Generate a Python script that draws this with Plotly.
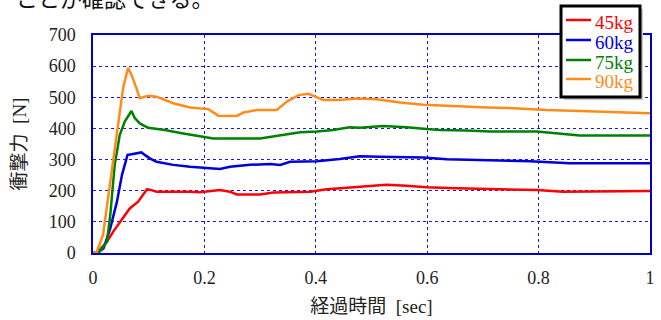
import plotly.graph_objects as go

# ---- data ----
t_45 = [0, 0.005, 0.012, 0.025, 0.036, 0.045, 0.054, 0.066, 0.081, 0.090, 0.097, 0.105, 0.114, 0.174,
        0.192, 0.228, 0.246, 0.258, 0.300, 0.324, 0.390, 0.420, 0.443, 0.497, 0.527, 0.563, 0.599,
        0.653, 0.713, 0.797, 0.844, 1.0]
f_45 = [0, 0, 10, 36, 68, 90, 111, 143, 165, 186, 205, 202, 197, 197,
        195, 202, 197, 188, 188, 194, 197, 205, 208, 215, 219, 216, 211,
        208, 206, 202, 197, 199]

t_60 = [0, 0.008, 0.019, 0.031, 0.043, 0.052, 0.057, 0.062, 0.069, 0.078, 0.087, 0.093, 0.102, 0.114,
        0.144, 0.174, 0.192, 0.228, 0.246, 0.282, 0.318, 0.336, 0.354, 0.402, 0.443, 0.479,
        0.515, 0.593, 0.635, 0.713, 0.785, 0.856, 1.0]
f_60 = [0, 0, 15, 79, 165, 250, 283, 315, 317, 320, 323, 315, 304, 293,
        283, 277, 275, 270, 277, 283, 286, 283, 293, 295, 302, 311,
        309, 307, 301, 299, 295, 288, 288]

t_75 = [0, 0.010, 0.025, 0.031, 0.039, 0.048, 0.057, 0.063, 0.069, 0.075, 0.084, 0.099, 0.129,
        0.162, 0.192, 0.216, 0.300, 0.330, 0.372, 0.402, 0.431, 0.461, 0.479, 0.521, 0.563,
        0.599, 0.623, 0.671, 0.713, 0.797, 0.844, 0.874, 1.0]
f_75 = [0, 0, 36, 122, 283, 379, 422, 438, 456, 433, 416, 402, 395,
        384, 374, 368, 368, 377, 388, 390, 395, 404, 402, 408, 404,
        398, 395, 393, 390, 390, 381, 377, 377]

t_90 = [0, 0.006, 0.018, 0.037, 0.054, 0.063, 0.069, 0.078, 0.084, 0.099, 0.114, 0.144, 0.174,
        0.207, 0.225, 0.258, 0.270, 0.294, 0.330, 0.348, 0.369, 0.387, 0.399, 0.414, 0.443,
        0.473, 0.509, 0.551, 0.593, 0.635, 0.707, 0.755, 0.815, 0.874, 0.946, 1.0]
f_90 = [0, 0, 58, 315, 529, 595, 572, 529, 497, 505, 502, 481, 467,
        462, 441, 440, 451, 459, 459, 486, 507, 511, 502, 491, 491,
        496, 494, 483, 476, 472, 467, 465, 459, 456, 451, 449]

series_names = ["45kg", "60kg", "75kg", "90kg"]
series_t = [t_45, t_60, t_75, t_90]
series_f = [f_45, f_60, f_75, f_90]
series_colors = ["#ff0000", "#0000dd", "#008000", "#ff8c1a"]

x_ticks = [0, 0.2, 0.4, 0.6, 0.8, 1.0]
x_tick_labels = ["0", "0.2", "0.4", "0.6", "0.8", "1"]
y_ticks = [0, 100, 200, 300, 400, 500, 600, 700]

SERIF = "Liberation Serif, 'Noto Sans CJK JP', serif"

# plot area in pixels (for placing the hand-drawn legend box)
L, R, T, B = 93, 650, 35, 253
W, H = 661, 320


def px(xp):
    return (xp - L) / (R - L)


def py(yp):
    return (B - yp) / (B - T)


fig = go.Figure()
for name, tt, ff, col in zip(series_names, series_t, series_f, series_colors):
    fig.add_trace(go.Scatter(
        x=tt, y=ff, mode="lines", name=name,
        line=dict(color=col, width=2.5),
        showlegend=False,
    ))

axis_common = dict(
    showgrid=True, gridcolor="#1a1ad6", griddash="dot", gridwidth=1,
    showline=True, linecolor="#0000c0", linewidth=1.5, mirror=True,
    zeroline=False, ticks="", automargin=False,
    tickfont=dict(family=SERIF, size=18, color="#222222"),
)

fig.update_layout(
    width=W, height=H,
    margin=dict(l=L, r=W - R, t=T, b=H - B, autoexpand=False),
    paper_bgcolor="white", plot_bgcolor="white",
    font=dict(family=SERIF, size=18, color="#222222"),
    showlegend=False,
    xaxis=dict(range=[0, 1], tickvals=x_ticks, ticktext=x_tick_labels,
               title=dict(text="経過時間\u00a0\u00a0[sec]", standoff=12,
                          font=dict(family=SERIF, size=19, color="#222222")),
               ticklabelstandoff=8, **axis_common),
    yaxis=dict(range=[0, 700], tickvals=y_ticks,
               title=dict(text="衝撃力\u00a0\u00a0[N]", standoff=17,
                          font=dict(family=SERIF, size=19, color="#222222")),
               ticklabelstandoff=12, **axis_common),
)

# ---- legend box (drawn by hand to match the reference's compact box) ----
box_l, box_r, box_t, box_b = 561, 640, 6, 97
shapes = [
    # shadow
    dict(type="rect", xref="paper", yref="paper",
         x0=px(box_l + 3), x1=px(box_r + 3), y0=py(box_b + 3), y1=py(box_t + 3),
         fillcolor="#c8c8c8", line=dict(width=0), layer="above"),
    # box
    dict(type="rect", xref="paper", yref="paper",
         x0=px(box_l), x1=px(box_r), y0=py(box_b), y1=py(box_t),
         fillcolor="white", line=dict(color="black", width=3), layer="above"),
]
row_y = [20, 40, 60, 79]
for name, col, ry in zip(series_names, series_colors, row_y):
    shapes.append(dict(type="line", xref="paper", yref="paper",
                       x0=px(566), x1=px(591), y0=py(ry), y1=py(ry),
                       line=dict(color=col, width=2.5), layer="above"))
    fig.add_annotation(text=name, xref="paper", yref="paper",
                       x=px(593), xanchor="left", y=py(ry + 2), yanchor="middle",
                       showarrow=False,
                       font=dict(family=SERIF, size=19, color=col))
fig.update_layout(shapes=shapes)

# the cut-off sentence from the surrounding document at the very top
fig.add_annotation(
    text="ことが確認できる。", xref="paper", yref="paper",
    x=px(14), xanchor="left", y=py(-3), yanchor="middle",
    showarrow=False,
    font=dict(family="'Noto Sans CJK JP', sans-serif", size=22, color="#111111"),
)

fig.write_html("out.html",
               config={"displayModeBar": False},
               post_script="document.body.style.margin='0';document.body.style.padding='0';")
